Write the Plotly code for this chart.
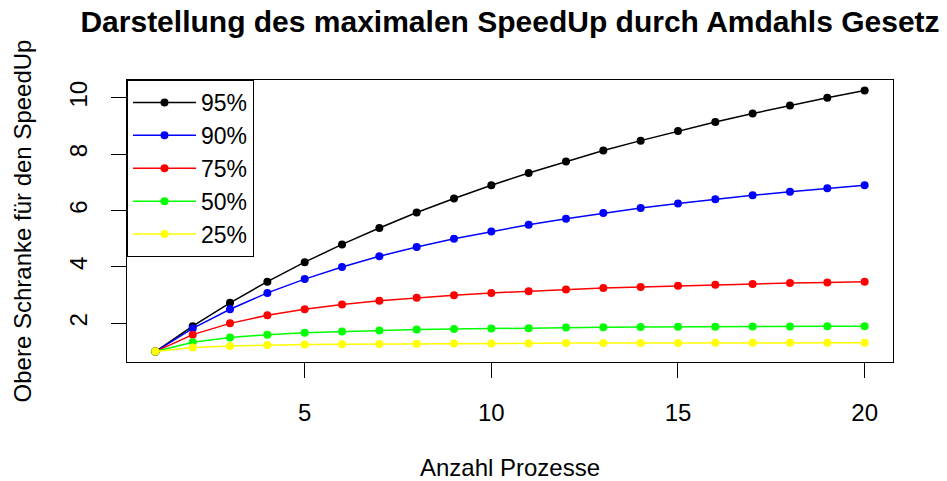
import plotly.graph_objects as go

prozesse = list(range(1, 21))
labels = ["95%", "90%", "75%", "50%", "25%"]
colors = ["#000000", "#0000FF", "#FF0000", "#00FF00", "#FFFF00"]

s95 = [1.00, 1.90, 2.73, 3.48, 4.17, 4.80, 5.38, 5.93, 6.43, 6.90,
       7.33, 7.74, 8.13, 8.48, 8.82, 9.14, 9.44, 9.73, 10.00, 10.26]
s90 = [1.00, 1.82, 2.50, 3.08, 3.57, 4.00, 4.38, 4.71, 5.00, 5.26,
       5.50, 5.71, 5.91, 6.09, 6.25, 6.40, 6.54, 6.67, 6.79, 6.90]
s75 = [1.00, 1.60, 2.00, 2.29, 2.50, 2.67, 2.80, 2.91, 3.00, 3.08,
       3.14, 3.20, 3.25, 3.29, 3.33, 3.37, 3.40, 3.43, 3.45, 3.48]
s50 = [1.00, 1.33, 1.50, 1.60, 1.67, 1.71, 1.75, 1.78, 1.80, 1.82,
       1.83, 1.85, 1.86, 1.87, 1.88, 1.88, 1.89, 1.89, 1.90, 1.90]
s25 = [1.00, 1.14, 1.20, 1.23, 1.25, 1.26, 1.27, 1.28, 1.29, 1.29,
       1.29, 1.30, 1.30, 1.30, 1.30, 1.31, 1.31, 1.31, 1.31, 1.31]
series = [s95, s90, s75, s50, s25]

x_ticks = [5, 10, 15, 20]
y_ticks = [2, 4, 6, 8, 10]

FONT = "Liberation Sans, Arial, sans-serif"

fig = go.Figure()
for lab, col, ys in zip(labels, colors, series):
    fig.add_trace(go.Scatter(
        x=prozesse, y=ys, name=lab, mode="lines+markers",
        line=dict(color=col, width=1.5),
        marker=dict(color=col, size=8, symbol="circle"),
    ))

x_span = max(prozesse) - min(prozesse)
all_y = [v for s in series for v in s]
y_span = max(all_y) - min(all_y)

fig.update_layout(
    width=947, height=481,
    margin=dict(l=127, r=54, t=80, b=119, autoexpand=False),
    paper_bgcolor="white", plot_bgcolor="white",
    font=dict(family=FONT, size=24, color="black"),
    title=dict(
        text="<b>Darstellung des maximalen SpeedUp durch Amdahls Gesetz</b>",
        font=dict(family=FONT, size=30, color="black"),
        x=0.5, xref="paper", xanchor="center",
        y=1 - 21 / 481, yref="container", yanchor="middle",
    ),
    showlegend=True,
    legend=dict(
        x=0, y=1, xanchor="left", yanchor="top",
        bordercolor="black", borderwidth=1, bgcolor="white",
        font=dict(family=FONT, size=23, color="black"),
        tracegroupgap=0, itemwidth=63, entrywidth=130, entrywidthmode="pixels",
    ),
    xaxis=dict(
        range=[min(prozesse) - 0.04 * x_span, max(prozesse) + 0.04 * x_span],
        tickvals=x_ticks, ticks="outside", ticklen=15, tickwidth=1,
        tickcolor="black", showgrid=False, zeroline=False, automargin=False,
        showline=True, linecolor="black", linewidth=1, mirror=True,
        tickfont=dict(size=24), ticklabelstandoff=14,
        title=dict(text="Anzahl Prozesse", font=dict(size=24), standoff=40),
    ),
    yaxis=dict(
        range=[min(all_y) - 0.04 * y_span, max(all_y) + 0.04 * y_span],
        tickvals=y_ticks, ticks="outside", ticklen=15, tickwidth=1,
        tickcolor="black", showgrid=False, zeroline=False, automargin=False,
        showline=True, linecolor="black", linewidth=1, mirror=True,
        tickangle=-90, tickfont=dict(size=24), ticklabelstandoff=14,
        title=dict(text="Obere Schranke für den SpeedUp", font=dict(size=24), standoff=27),
    ),
)

fig.write_html("out.html")
